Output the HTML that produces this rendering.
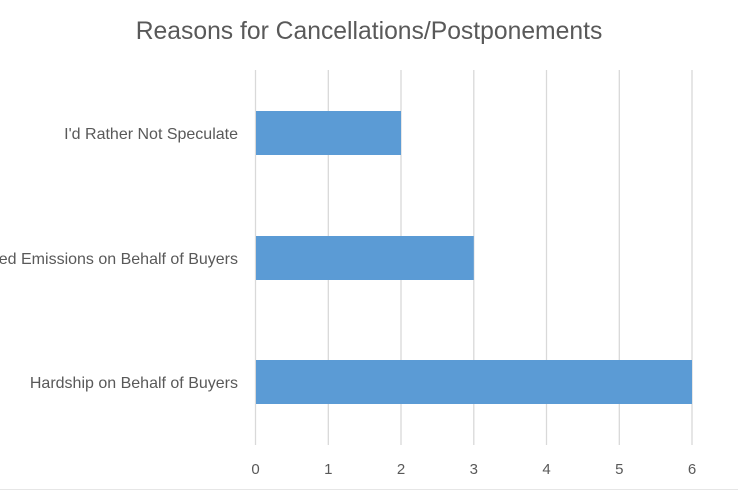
<!DOCTYPE html>
<html><head><style>
html,body{margin:0;padding:0;background:#fff;}
body{width:738px;height:490px;overflow:hidden;}
svg text{font-family:"Liberation Sans",sans-serif;fill:#595959;}
</style></head><body>
<svg width="738" height="490" xmlns="http://www.w3.org/2000/svg">
<rect x="0" y="0" width="738" height="490" fill="#fff"/>
<line x1="0" y1="489.5" x2="738" y2="489.5" stroke="#e6e6e6" stroke-width="1"/>
<text x="369" y="39" font-size="24.7" text-anchor="middle">Reasons for Cancellations/Postponements</text>
<g stroke="#d9d9d9" stroke-width="1.3">
<line x1="255.5" y1="70" x2="255.5" y2="445"/>
<line x1="328.3" y1="70" x2="328.3" y2="445"/>
<line x1="401" y1="70" x2="401" y2="445"/>
<line x1="473.8" y1="70" x2="473.8" y2="445"/>
<line x1="546.5" y1="70" x2="546.5" y2="445"/>
<line x1="619.3" y1="70" x2="619.3" y2="445"/>
<line x1="692" y1="70" x2="692" y2="445"/>
</g>
<g fill="#5b9bd5">
<rect x="256" y="111" width="145" height="44"/>
<rect x="256" y="236" width="217.8" height="44"/>
<rect x="256" y="360" width="436" height="44"/>
</g>
<g font-size="16" text-anchor="end">
<text x="238" y="139">I'd Rather Not Speculate</text>
<text x="238" y="264">Reduced Emissions on Behalf of Buyers</text>
<text x="238" y="388">Hardship on Behalf of Buyers</text>
</g>
<g font-size="15" text-anchor="middle">
<text x="255.5" y="474">0</text>
<text x="328.3" y="474">1</text>
<text x="401" y="474">2</text>
<text x="473.8" y="474">3</text>
<text x="546.5" y="474">4</text>
<text x="619.3" y="474">5</text>
<text x="692" y="474">6</text>
</g>
</svg>
</body></html>
